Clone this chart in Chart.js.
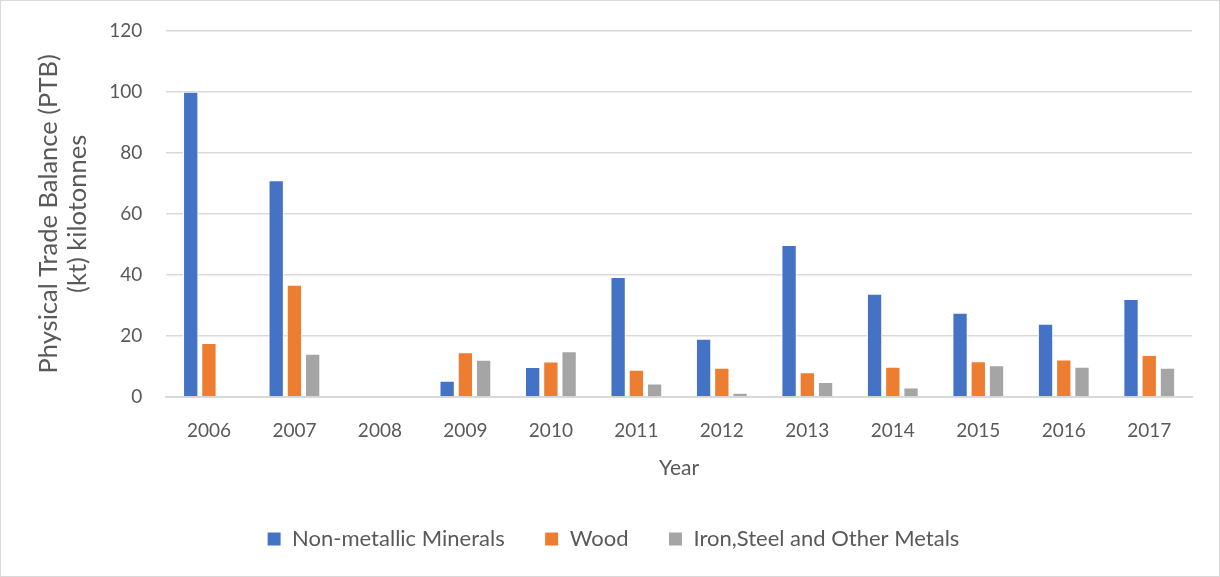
<!DOCTYPE html>
<html>
<head>
<meta charset="utf-8">
<script src="https://cdn.jsdelivr.net/npm/chart.js@4/dist/chart.umd.min.js"></script>
<style>
  html, body { margin: 0; padding: 0; background: #fff; }
  #wrap { width: 1218px; height: 575px; border: 1px solid #d9d9d9; }
</style>
</head>
<body>
<div id="wrap"><canvas id="chart" width="1218" height="575"></canvas></div>
<script>
const years = ['2006', '2007', '2008', '2009', '2010', '2011', '2012', '2013', '2014', '2015', '2016', '2017']
const nonMetallic = [100, 71.0, null, 5.3, 9.8, 39.3, 19.1, 49.8, 33.8, 27.6, 24.0, 32.1]
const wood = [17.7, 36.8, null, 14.7, 11.6, 8.9, 9.6, 8.1, 9.9, 11.7, 12.3, 13.8]
const metals = [null, 14.2, null, 12.2, 15.0, 4.4, 1.4, 4.9, 3.1, 10.4, 9.9, 9.6]
const yTicks = [0, 20, 40, 60, 80, 100, 120]

const fontFamily = 'Lato, "Open Sans", sans-serif'
const textColor = '#595959'

function barSet(label, data, color) {
    return {
        label: label,
        data: data,
        backgroundColor: color,
        borderColor: '#ffffff',
        borderWidth: 1,
        categoryPercentage: 0.64,
        barPercentage: 0.84
    }
}

new Chart(document.getElementById('chart'), {
    type: 'bar',
    data: {
        labels: years,
        datasets: [
            barSet('Non-metallic Minerals', nonMetallic, '#4472c4'),
            barSet('Wood', wood, '#ed7d31'),
            barSet('Iron,Steel and Other Metals', metals, '#a5a5a5')
        ]
    },
    options: {
        responsive: false,
        animation: false,
        layout: { padding: { top: 12, right: 27, left: 33.5, bottom: 16 } },
        plugins: {
            tooltip: { enabled: false },
            legend: {
                position: 'bottom',
                labels: {
                    color: textColor,
                    font: { family: fontFamily, size: 22 },
                    boxWidth: 14,
                    boxHeight: 14,
                    padding: 40
                }
            }
        },
        scales: {
            x: {
                grid: { display: false, drawTicks: false },
                border: { color: '#d9d9d9', width: 2 },
                ticks: { color: textColor, font: { family: fontFamily, size: 19 }, padding: 22 },
                title: {
                    display: true,
                    text: 'Year',
                    color: textColor,
                    font: { family: fontFamily, size: 21 },
                    padding: { top: -8, bottom: 7 }
                }
            },
            y: {
                min: 0,
                max: 120,
                afterBuildTicks: axis => { axis.ticks = yTicks.map(v => ({ value: v })) },
                grid: { color: '#d9d9d9', lineWidth: 1.5, drawTicks: false },
                border: { display: false },
                // small lineHeight keeps the top gap tight
                ticks: { color: textColor, font: { family: fontFamily, size: 19, lineHeight: 0.6 }, padding: 24 },
                title: {
                    display: true,
                    text: ['Physical Trade Balance (PTB)', '(kt) kilotonnes'],
                    color: textColor,
                    font: { family: fontFamily, size: 25.5, lineHeight: 1.14 },
                    padding: { top: 0, bottom: -7.5 }
                }
            }
        }
    }
})
</script>
</body>
</html>
